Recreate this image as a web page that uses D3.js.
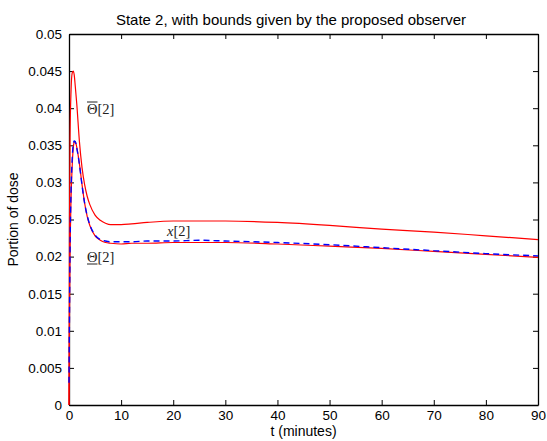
<!DOCTYPE html>
<html>
<head>
<meta charset="utf-8">
<script src="https://cdn.jsdelivr.net/npm/d3@7"></script>
<style>
  body { margin: 0; background: #fff; }
  svg text { font-family: "Liberation Sans", Arial, sans-serif; }
</style>
</head>
<body>
<svg id="chart"></svg>
<script>
// time grid (minutes) shared by all series
var tMinutes = [0, 0.1, 0.2, 0.4, 0.6, 0.8, 1.0, 1.2, 1.5, 2, 2.5, 3, 3.5, 4, 5, 6, 7, 8, 10, 12, 15, 20, 25, 30, 40, 50, 60, 70, 80, 90];

// upper bound from the observer
var upperBound = [0, 0.025, 0.036, 0.0425, 0.0447, 0.0450, 0.0445, 0.0430, 0.0405, 0.0355, 0.0320, 0.0297, 0.0281, 0.0270, 0.0256, 0.0249, 0.0245, 0.0243, 0.0243, 0.0244, 0.0246, 0.0248, 0.0248, 0.0248, 0.0246, 0.0242, 0.0237, 0.0233, 0.0228, 0.0223];

// lower bound from the observer
var lowerBound = [0, 0.012, 0.020, 0.028, 0.032, 0.0345, 0.0354, 0.0355, 0.0347, 0.0325, 0.0297, 0.0272, 0.0254, 0.0242, 0.0228, 0.0222, 0.0219, 0.0218, 0.0217, 0.0218, 0.0218, 0.0219, 0.0219, 0.0219, 0.0217, 0.0214, 0.0211, 0.0207, 0.0203, 0.0199];

// true state x[2]
var stateX = [0.003, 0.013, 0.021, 0.029, 0.033, 0.0350, 0.0356, 0.0355, 0.0346, 0.0324, 0.0296, 0.0272, 0.0255, 0.0243, 0.0229, 0.0223, 0.0221, 0.0220, 0.0220, 0.0220, 0.0221, 0.0221, 0.0222, 0.0221, 0.0219, 0.0216, 0.0212, 0.0208, 0.0204, 0.0201];

var xTicks = [0, 10, 20, 30, 40, 50, 60, 70, 80, 90];
var yTicks = [0, 0.005, 0.01, 0.015, 0.02, 0.025, 0.03, 0.035, 0.04, 0.045, 0.05];
var yTickLabels = ["0", "0.005", "0.01", "0.015", "0.02", "0.025", "0.03", "0.035", "0.04", "0.045", "0.05"];

var width = 547,
    height = 441;
var margin = {left: 69, right: 9, top: 34, bottom: 36};
var plotW = width - margin.left - margin.right,
    plotH = height - margin.top - margin.bottom;

var svg = d3.select("#chart")
  .attr("width", width)
  .attr("height", height);

var x = d3.scaleLinear().domain([0, 90]).range([margin.left, margin.left + plotW]);
var y = d3.scaleLinear().domain([0, 0.05]).range([margin.top + plotH, margin.top]);

var fs = 13.5;

// title
svg.append("text")
  .attr("x", 291)
  .attr("y", 25)
  .attr("text-anchor", "middle")
  .style("font-size", "15px")
  .text("State 2, with bounds given by the proposed observer");

// axes (ticks inside, mirrored on top / right)
var xAxis = svg.append("g")
  .attr("transform", "translate(0," + (margin.top + plotH) + ")")
  .call(d3.axisBottom(x).tickValues(xTicks).tickSizeInner(-5).tickSizeOuter(0).tickPadding(5));
var yAxis = svg.append("g")
  .attr("transform", "translate(" + margin.left + ",0)")
  .call(d3.axisLeft(y).tickValues(yTicks).tickSizeInner(-5).tickSizeOuter(0).tickPadding(7)
    .tickFormat(function(d, i) { return yTickLabels[i]; }));
var xTop = svg.append("g")
  .attr("transform", "translate(0," + margin.top + ")")
  .call(d3.axisTop(x).tickValues(xTicks).tickSizeInner(-5).tickSizeOuter(0).tickFormat(""));
var yRight = svg.append("g")
  .attr("transform", "translate(" + (margin.left + plotW) + ",0)")
  .call(d3.axisRight(y).tickValues(yTicks).tickSizeInner(-5).tickSizeOuter(0).tickFormat(""));

[xAxis, yAxis, xTop, yRight].forEach(function(g) {
  g.select(".domain").attr("stroke", "#000").attr("stroke-width", 1.3);
  g.selectAll(".tick line").attr("stroke", "#000").attr("stroke-width", 1);
  g.selectAll(".tick text").attr("fill", "#000").style("font-size", fs + "px").style("font-family", "Liberation Sans, Arial, sans-serif");
});

// axis labels
svg.append("text")
  .attr("x", margin.left + plotW / 2)
  .attr("y", 435.5)
  .attr("text-anchor", "middle")
  .style("font-size", "14px")
  .text("t (minutes)");

svg.append("text")
  .attr("transform", "translate(18," + (margin.top + plotH / 2) + ") rotate(-90)")
  .attr("text-anchor", "middle")
  .style("font-size", "14px")
  .text("Portion of dose");

// curves
var line = d3.line()
  .x(function(d) { return x(d[0]); })
  .y(function(d) { return y(d[1]); })
  .curve(d3.curveMonotoneX);

function pairs(vals) { return tMinutes.map(function(t, i) { return [t, vals[i]]; }); }

var plot = svg.append("g");

plot.append("path")
  .attr("d", line(pairs(upperBound)))
  .attr("fill", "none")
  .attr("stroke", "#ff0000")
  .attr("stroke-width", 1.2);

plot.append("path")
  .attr("d", line(pairs(lowerBound)))
  .attr("fill", "none")
  .attr("stroke", "#ff0000")
  .attr("stroke-width", 1.2);

plot.append("path")
  .attr("d", line(pairs(stateX)))
  .attr("fill", "none")
  .attr("stroke", "#0000ff")
  .attr("stroke-width", 1.4)
  .attr("stroke-dasharray", "6,4");

// curve labels (LaTeX-ish serif)
function mathLabel(px, py, bar) {
  var t = svg.append("text")
    .attr("x", px)
    .attr("y", py)
    .style("font-family", "Liberation Serif, 'DejaVu Serif', serif")
    .style("font-size", "14.5px")
    .attr("fill", "#222");
  t.append("tspan").text("\u0398");
  t.append("tspan").text("[2]");
  var w = t.node().getSubStringLength(0, 1);
  var ly = bar === "over" ? py - 12 : py + 2;
  svg.append("line")
    .attr("x1", px).attr("x2", px + w)
    .attr("y1", ly).attr("y2", ly)
    .attr("stroke", "#222")
    .attr("stroke-width", 1);
}

mathLabel(87, 114, "over");
mathLabel(87, 262, "under");

var xl = svg.append("text")
  .attr("x", 167)
  .attr("y", 236)
  .style("font-family", "Liberation Serif, 'DejaVu Serif', serif")
  .style("font-size", "14.5px")
  .attr("fill", "#222");
xl.append("tspan").style("font-style", "italic").text("x");
xl.append("tspan").text("[2]");
</script>
</body>
</html>
